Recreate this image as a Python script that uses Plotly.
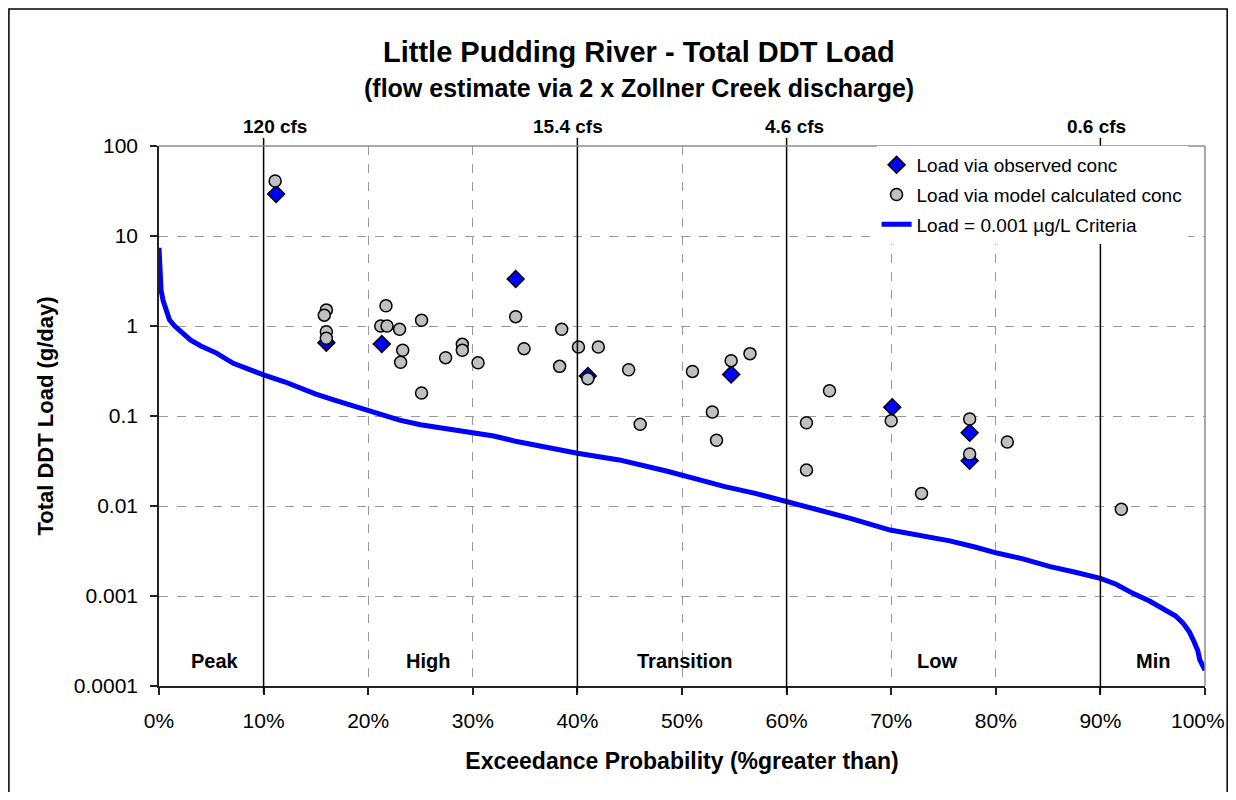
import plotly.graph_objects as go

FONT = "Liberation Sans, Arial, sans-serif"

# load computed from observed concentrations
obs_exceed = [11.2, 16.0, 21.3, 34.1, 41.0, 54.7, 70.1, 77.5, 77.5]
obs_load = [29.3, 0.653, 0.63, 3.33, 0.278, 0.29, 0.125, 0.0652, 0.0318]

# load computed from model concentrations
model_exceed = [11.1, 16.0, 15.8, 16.0, 16.0, 21.7, 21.2, 21.8, 23.0, 25.1,
                23.3, 23.1, 25.1, 27.4, 29.0, 29.0, 30.5, 34.1, 34.9, 38.5,
                38.3, 40.1, 42.0, 41.0, 44.9, 46.0, 51.0, 52.9, 53.3, 54.7,
                56.5, 61.9, 64.1, 61.9, 70.0, 72.9, 77.5, 77.5, 81.1, 92.0]
model_load = [40.8, 1.51, 1.32, 0.865, 0.73, 1.68, 1.0, 1.0, 0.92, 1.16,
              0.537, 0.395, 0.18, 0.445, 0.625, 0.537, 0.39, 1.27, 0.56, 0.92,
              0.356, 0.585, 0.585, 0.26, 0.327, 0.081, 0.313, 0.111, 0.0537, 0.412,
              0.493, 0.0843, 0.191, 0.0251, 0.0887, 0.0138, 0.0927, 0.0378, 0.0514, 0.0092]

# load at the 0.001 ug/L criteria along the flow duration curve
crit_exceed = [0, 0.1, 0.2, 0.4, 0.6, 1.0, 1.5, 2.3, 3.0, 4.0, 5.5, 7.1, 8.5, 10.0,
               12.0, 13.5, 15.0, 16.7, 18.5, 19.9, 21.5, 23.0, 25.0, 27.2, 30.0,
               32.0, 34.2, 37.0, 40.0, 44.0, 46.0, 48.5, 51.7, 54.0, 57.0, 60.0,
               63.0, 66.1, 69.9, 72.5, 75.6, 78.0, 80.1, 82.5, 85.2, 87.5, 90.0,
               91.5, 93.1, 94.7, 96.3, 97.2, 97.9, 98.5, 98.9, 99.3, 99.5, 99.8, 100]
crit_load = [7.4, 4.0, 2.5, 1.9, 1.6, 1.17, 1.0, 0.84, 0.70, 0.60, 0.50, 0.385, 0.33, 0.286,
             0.24, 0.203, 0.175, 0.151, 0.13, 0.117, 0.103, 0.090, 0.080, 0.073, 0.066,
             0.060, 0.052, 0.045, 0.0385, 0.0325, 0.029, 0.0245, 0.0195, 0.0165, 0.0138, 0.0112,
             0.0092, 0.0073, 0.0054, 0.0048, 0.0041, 0.0035, 0.0030, 0.0026, 0.00212, 0.00185, 0.00157,
             0.00135, 0.00107, 0.00088, 0.0007, 0.0006, 0.0005, 0.0004, 0.00032, 0.00025, 0.000195, 0.00016, 0.00015]

flow_pct = [10, 40, 60, 90]
flow_labels = ["120 cfs", "15.4 cfs", "4.6 cfs", "0.6 cfs"]
flow_label_pct = [11.1, 39.1, 60.8, 89.6]

zone_pct = [5.4, 25.7, 50.3, 74.4, 95.0]
zone_labels = ["Peak", "High", "Transition", "Low", "Min"]

x_ticks = list(range(0, 101, 10))
x_ticktext = [f"{v}%" for v in x_ticks]
y_ticks = [0.0001, 0.001, 0.01, 0.1, 1, 10, 100]
y_ticktext = ["0.0001", "0.001", "0.01", "0.1", "1", "10", "100"]

fig = go.Figure()
fig.add_trace(go.Scatter(
    x=obs_exceed, y=obs_load, mode="markers", name="Load via observed conc", legendgroup="a",
    marker=dict(symbol="diamond", size=13, color="#0000FF", line=dict(color="black", width=1.5))
))
fig.add_trace(go.Scatter(
    x=model_exceed, y=model_load, mode="markers", name="Load via model calculated conc", legendgroup="b",
    marker=dict(symbol="circle", size=12, color="#C0C0C0", line=dict(color="black", width=1.5))
))
fig.add_trace(go.Scatter(
    x=crit_exceed, y=crit_load, mode="lines", name="Load = 0.001 µg/L Criteria", legendgroup="c",
    line=dict(color="#0000FF", width=5)
))

shapes = []
# flow regime dividers
for p in flow_pct:
    shapes.append(dict(type="line", xref="x", yref="paper", x0=p, x1=p, y0=-0.013, y1=1.015,
                       line=dict(color="black", width=1.5), layer="above"))
# gray top/right border
shapes.append(dict(type="line", xref="paper", yref="paper", x0=0, x1=1, y0=1, y1=1,
                   line=dict(color="#8c8c8c", width=1.5)))
shapes.append(dict(type="line", xref="paper", yref="paper", x0=1, x1=1, y0=0, y1=1,
                   line=dict(color="#8c8c8c", width=1.5)))
# outer chart frame
shapes.append(dict(type="rect", xref="paper", yref="paper", x0=-0.1435, x1=1.0212, y0=-0.25, y1=1.2537,
                   line=dict(color="black", width=1.5), fillcolor="rgba(0,0,0,0)"))

annotations = [
    dict(text="<b>Little Pudding River - Total DDT Load</b>", xref="paper", yref="paper",
         x=0.459, y=1.174, yanchor="middle", showarrow=False,
         font=dict(size=29, color="black", family=FONT)),
    dict(text="<b>(flow estimate via 2 x Zollner Creek discharge)</b>", xref="paper", yref="paper",
         x=0.459, y=1.107, yanchor="middle", showarrow=False,
         font=dict(size=25, color="black", family=FONT)),
    # last x tick label, pushed in so it does not spill past the figure edge
    dict(text=x_ticktext[-1], xref="paper", yref="paper", x=1.0212, y=-0.063,
         xanchor="right", yanchor="middle", showarrow=False,
         font=dict(size=21, color="black", family=FONT)),
]
for lab, p in zip(flow_labels, flow_label_pct):
    annotations.append(dict(text=f"<b>{lab}</b>", xref="x", yref="paper", x=p, y=1.037,
                            yanchor="middle", showarrow=False,
                            font=dict(size=19, color="black", family=FONT)))
for lab, p in zip(zone_labels, zone_pct):
    annotations.append(dict(text=f"<b>{lab}</b>", xref="x", yref="paper", x=p, y=0.046,
                            yanchor="middle", showarrow=False,
                            font=dict(size=20, color="black", family=FONT)))

# the page body has an 8px margin, so keep the figure inside the window
fig.update_layout(
    width=1220, height=784,
    margin=dict(l=151, r=23, t=138, b=106),
    paper_bgcolor="white", plot_bgcolor="white",
    font=dict(family=FONT, color="black"),
    shapes=shapes, annotations=annotations,
    legend=dict(x=0.686, y=1, xanchor="left", yanchor="top", bgcolor="white",
                font=dict(size=19, family=FONT, color="black"), tracegroupgap=2),
    showlegend=True,
)
fig.update_xaxes(
    range=[0, 100], tickvals=x_ticks, ticktext=x_ticktext[:-1] + [""],
    showgrid=True, gridcolor="#999999", griddash="dash", gridwidth=1,
    showline=True, linecolor="#222222", linewidth=1.5,
    ticks="outside", ticklen=7, tickcolor="#222222", tickwidth=1.5, ticklabelstandoff=8,
    tickfont=dict(size=21, family=FONT, color="black"), zeroline=False,
    title=dict(text="<b>Exceedance Probability (%greater than)</b>", font=dict(size=23, family=FONT),
               standoff=22),
)
fig.update_yaxes(
    type="log", range=[-4, 2], tickvals=y_ticks, ticktext=y_ticktext,
    showgrid=True, gridcolor="#999999", griddash="dash", gridwidth=1,
    showline=True, linecolor="#222222", linewidth=1.5,
    ticks="outside", ticklen=7, tickcolor="#222222", tickwidth=1.5, ticklabelstandoff=8,
    tickfont=dict(size=21, family=FONT, color="black"), zeroline=False,
    title=dict(text="<b>Total DDT Load (g/day)</b>", font=dict(size=22, family=FONT), standoff=14),
)

fig.write_html("out.html", config={"displayModeBar": False})
